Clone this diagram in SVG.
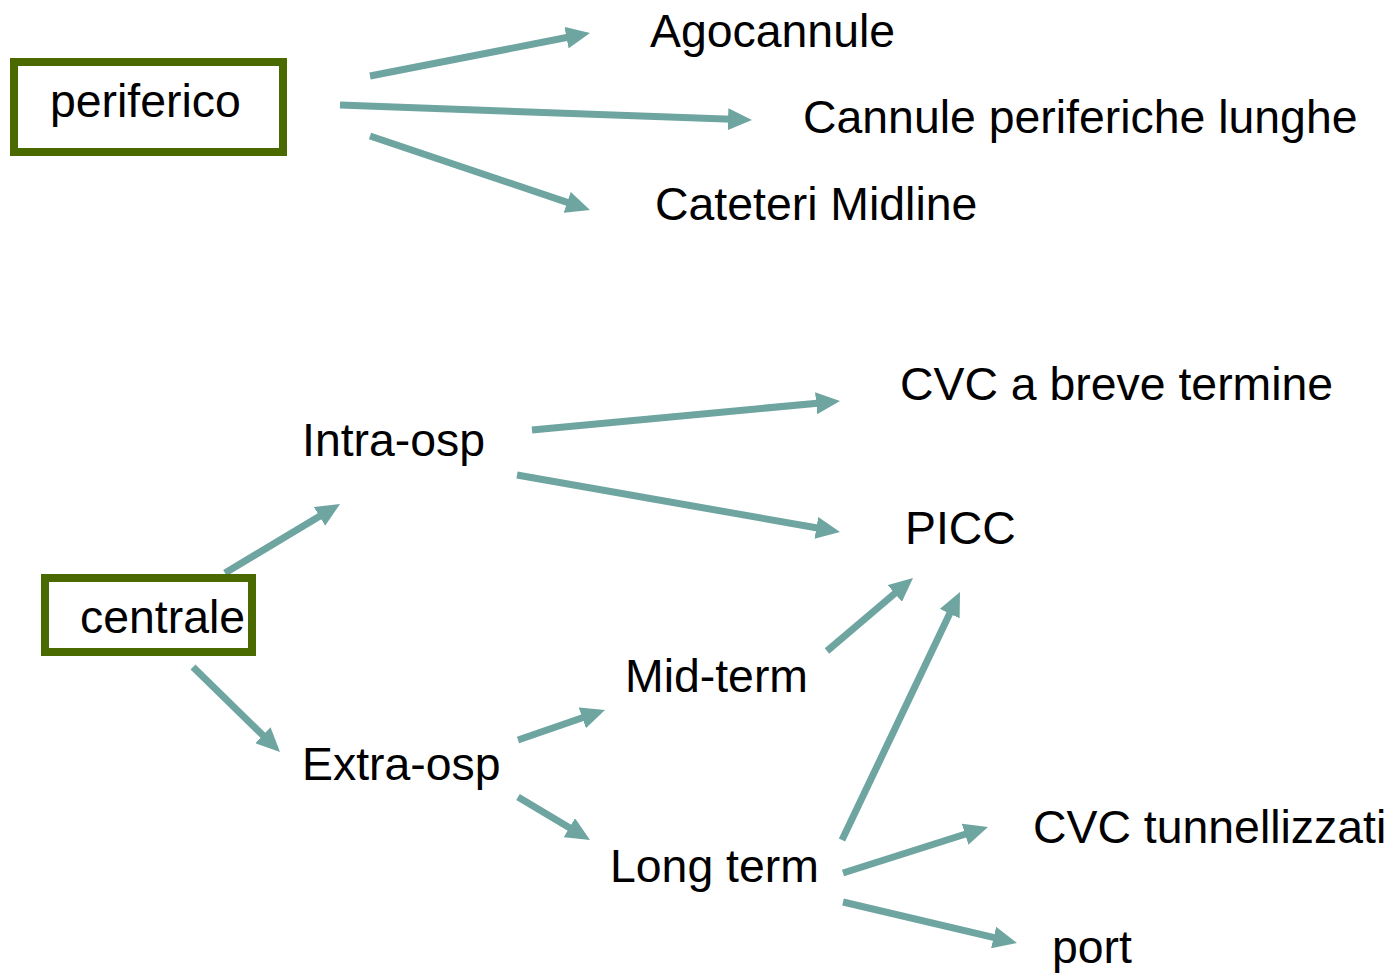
<svg xmlns="http://www.w3.org/2000/svg" width="1393" height="975" viewBox="0 0 1393 975">
<style>
text{font-family:"Liberation Sans",Arial,sans-serif;font-size:46.4px;fill:#000}
.box{fill:#fff;stroke:#4a6a00;stroke-width:8}
.c line{stroke:#6ea5a1;stroke-width:7;marker-end:url(#ah)}
</style>
<defs>
<marker id="ah" markerUnits="userSpaceOnUse" markerWidth="24" markerHeight="22" refX="4" refY="11" orient="auto" viewBox="0 0 24 22">
<path d="M0,0 L24,11 L0,22 z" fill="#6ea5a1"/>
</marker>
</defs>
<rect width="1393" height="975" fill="#fff"/>
<g class="c" id="connectors">
<line x1="370" y1="76" x2="570.4" y2="36.8"/>
<line x1="340" y1="105" x2="732" y2="119.3"/>
<line x1="370" y1="136" x2="571" y2="203.6"/>
<line x1="225" y1="573" x2="322.9" y2="514.3"/>
<line x1="193" y1="667" x2="265.7" y2="738"/>
<line x1="532" y1="430" x2="820.1" y2="402.9"/>
<line x1="517" y1="475" x2="820.3" y2="528.5"/>
<line x1="518" y1="740" x2="586.1" y2="716.5"/>
<line x1="518" y1="797" x2="572.8" y2="829.7"/>
<line x1="827" y1="651" x2="897.8" y2="590.9"/>
<line x1="842" y1="840" x2="951.4" y2="610.1"/>
<line x1="843" y1="873" x2="968.9" y2="833"/>
<line x1="843" y1="902" x2="997.5" y2="938.4"/>
</g>
<g id="periferico"><rect class="box" x="14" y="62" width="269" height="90"/><text x="50" y="117">periferico</text></g>
<g id="centrale"><rect class="box" x="45" y="578" width="207" height="74"/><text x="80" y="633">centrale</text></g>
<g id="agocannule"><text x="650" y="47">Agocannule</text></g>
<g id="cannule"><text x="803" y="133">Cannule periferiche lunghe</text></g>
<g id="midline"><text x="655" y="220">Cateteri Midline</text></g>
<g id="intra"><text x="302" y="456">Intra-osp</text></g>
<g id="extra"><text x="302" y="780">Extra-osp</text></g>
<g id="mid"><text x="625" y="692">Mid-term</text></g>
<g id="long"><text x="610" y="882">Long term</text></g>
<g id="cvcbreve"><text x="900" y="400">CVC a breve termine</text></g>
<g id="picc"><text x="905" y="544">PICC</text></g>
<g id="tunnel"><text x="1033" y="843">CVC tunnellizzati</text></g>
<g id="port"><text x="1052" y="963">port</text></g>
</svg>
